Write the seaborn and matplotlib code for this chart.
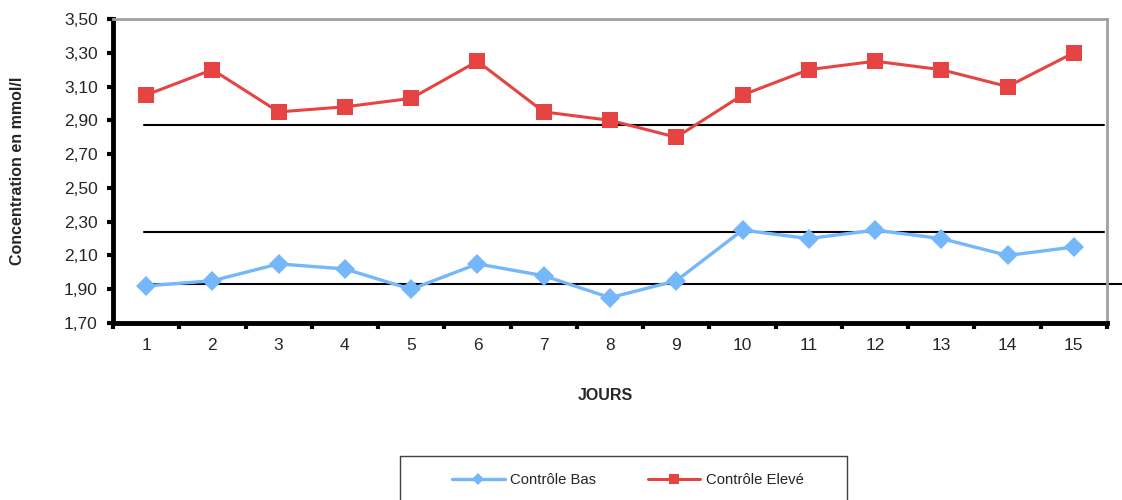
import matplotlib
matplotlib.use("Agg")
import matplotlib.pyplot as plt
import matplotlib.ticker as mticker
from matplotlib.patches import Rectangle
import numpy as np
import pandas as pd
import seaborn as sns

# Daily quality-control results (mmol/l)
jours = list(range(1, 16))
controle_bas = [1.92, 1.95, 2.05, 2.02, 1.90, 2.05, 1.98, 1.85, 1.95, 2.25,
                2.20, 2.25, 2.20, 2.10, 2.15]
controle_eleve = [3.05, 3.20, 2.95, 2.98, 3.03, 3.25, 2.95, 2.90, 2.80, 3.05,
                  3.20, 3.25, 3.20, 3.10, 3.30]
limites = [2.87, 2.24, 1.93]
y_ticks = [1.70, 1.90, 2.10, 2.30, 2.50, 2.70, 2.90, 3.10, 3.30, 3.50]

sns.set_theme(style="white")
plt.rcParams["font.family"] = ["Liberation Sans", "DejaVu Sans"]

df = pd.DataFrame({"Jour": jours, "Contrôle Bas": controle_bas,
                   "Contrôle Elevé": controle_eleve})

W, H = 1122, 500
fig = plt.figure(figsize=(W / 100, H / 100), dpi=100)
ax = fig.add_axes([113 / W, 1 - 323 / H, 994 / W, 304 / H])

blue = "#74B7FA"
red = "#E64442"

sns.lineplot(data=df, x="Jour", y="Contrôle Bas", ax=ax, color=blue,
             linewidth=2.4, marker="D", markersize=10.5, markeredgewidth=0,
             label="Contrôle Bas", legend=False)
sns.lineplot(data=df, x="Jour", y="Contrôle Elevé", ax=ax, color=red,
             linewidth=2.2, marker="s", markersize=11.5, markeredgewidth=0,
             label="Contrôle Elevé", legend=False)

# Control limits
for i, v in enumerate(limites):
    ax.axhline(v, xmin=31 / 994, xmax=(1.015 if i == 2 else 0.997),
               color="black", linewidth=1.5, clip_on=False, zorder=1)

ax.set_xlim(0.5, 15.5)
ax.set_ylim(1.70, 3.50)
ax.set_yticks(y_ticks)
ax.yaxis.set_major_formatter(mticker.FuncFormatter(lambda v, p: f"{v:.2f}".replace(".", ",")))
ax.set_xticks(jours)
ax.set_xticks(np.arange(0.5, 16, 1.0), minor=True)
ax.tick_params(axis="x", which="major", length=0, labelsize=12.5, pad=11)
ax.tick_params(axis="x", which="minor", length=4, width=3, direction="out",
               color="black", bottom=True)
ax.tick_params(axis="y", which="major", length=4, width=3, direction="out",
               color="black", labelsize=12.5, pad=7, left=True)

for s in ["left", "bottom"]:
    ax.spines[s].set_color("black")
    ax.spines[s].set_linewidth(3.5)
for s in ["top", "right"]:
    ax.spines[s].set_color("#A0A0A0")
    ax.spines[s].set_linewidth(2)

ax.set_xlabel("JOURS", fontsize=11.5, fontweight="bold", labelpad=0)
ax.xaxis.set_label_coords((605 - 113) / 994, -(388 - 323) / 304)
ax.set_ylabel("Concentration en mmol/l", fontsize=11.5, fontweight="bold")
ax.yaxis.set_label_coords(-(113 - 25) / 994, 0.5)

# Legend box, open at the bottom edge of the figure
fig.patches.append(Rectangle((400 / W, -0.05), 447 / W, 0.05 + 1 - 456 / H,
                             transform=fig.transFigure, fill=False,
                             edgecolor="#404040", linewidth=1.0))

handles, labels = ax.get_legend_handles_labels()
fig.legend(handles, labels, loc="center",
           bbox_to_anchor=(627.5 / W, 1 - 480 / H),
           ncol=2, fontsize=10.7, frameon=False, handlelength=3.56,
           handletextpad=0.34, columnspacing=3.5, borderpad=0,
           markerscale=0.6)

fig.savefig("out.png", dpi=100)
